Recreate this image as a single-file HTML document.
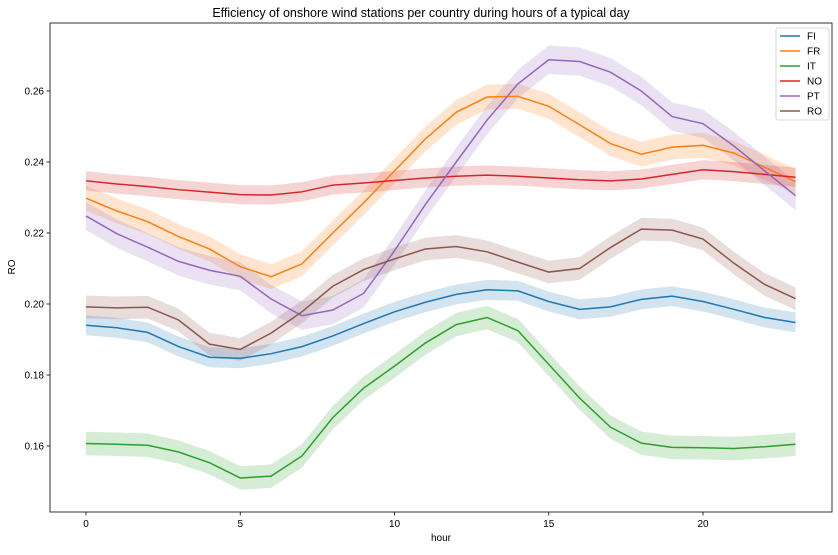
<!DOCTYPE html>
<html><head><meta charset="utf-8"><style>
body{margin:0;background:#fff;font-family:"Liberation Sans","DejaVu Sans",sans-serif}
</style></head><body>
<svg id="chart" width="838" height="550" xmlns="http://www.w3.org/2000/svg" font-family="Liberation Sans, DejaVu Sans, sans-serif"></svg>
<script>
const hours=[0,1,2,3,4,5,6,7,8,9,10,11,12,13,14,15,16,17,18,19,20,21,22,23];
const seriesNames=["FI","FR","IT","NO","PT","RO"];
const colors=["#1f77b4","#ff7f0e","#2ca02c","#d62728","#9467bd","#8c564b"];
const FI=[0.194,0.1933,0.192,0.188,0.185,0.1847,0.186,0.188,0.191,0.1945,0.1978,0.2005,0.2027,0.204,0.2037,0.2007,0.1985,0.1992,0.2013,0.2022,0.2007,0.1985,0.1962,0.1948];
const FR=[0.2298,0.2262,0.2232,0.219,0.2155,0.2105,0.2077,0.2113,0.22,0.2285,0.2375,0.2465,0.254,0.2583,0.2585,0.2557,0.2505,0.2452,0.2422,0.2442,0.2447,0.2425,0.2385,0.2345];
const IT=[0.1607,0.1605,0.1602,0.1583,0.1553,0.151,0.1515,0.1572,0.168,0.1763,0.1825,0.189,0.1942,0.1962,0.1925,0.183,0.1735,0.1653,0.1608,0.1596,0.1595,0.1593,0.1598,0.1605];
const NO=[0.2347,0.2338,0.2331,0.2322,0.2315,0.2308,0.2307,0.2316,0.2335,0.2341,0.2348,0.2355,0.236,0.2363,0.236,0.2355,0.235,0.2347,0.2352,0.2365,0.2378,0.2373,0.2365,0.2357];
const PT=[0.2248,0.2198,0.216,0.212,0.2095,0.2078,0.2014,0.1967,0.1983,0.203,0.215,0.228,0.24,0.2518,0.262,0.2688,0.2683,0.2653,0.26,0.2528,0.2508,0.2445,0.2375,0.2305];
const RO=[0.1992,0.1989,0.1991,0.1955,0.1887,0.1872,0.1918,0.1978,0.205,0.2097,0.2127,0.2155,0.2162,0.2147,0.2118,0.209,0.21,0.2159,0.2211,0.2208,0.2183,0.2115,0.2055,0.2015];
const ciHalf=[0.0028,0.0035,0.0033,0.0027,0.004,0.0032];
const xTicks=[0,5,10,15,20];
const yTicks=[0.16,0.18,0.20,0.22,0.24,0.26];
const yTickLabels=["0.16","0.18","0.20","0.22","0.24","0.26"];
const allSeries=[FI,FR,IT,NO,PT,RO];

const svg=document.getElementById('chart');
const NS="http://www.w3.org/2000/svg";
const L=50,R=832,T=23,B=512;
const xs=h=>86+(h-0)*(703-86)/20;
const ys=v=>446-(v-0.16)*(71/0.02);
function mk(tag,attrs,parent){const e=document.createElementNS(NS,tag);for(const k in attrs)e.setAttribute(k,attrs[k]);(parent||svg).appendChild(e);return e;}

// title & labels
let t=mk('text',{x:421,y:17,'text-anchor':'middle','font-size':12.5,fill:'#000'});t.textContent="Efficiency of onshore wind stations per country during hours of a typical day";


t=mk('text',{x:441,y:541,'text-anchor':'middle','font-size':10,fill:'#000'});t.textContent="hour";


t=mk('text',{x:15,y:267,'text-anchor':'middle','font-size':10,fill:'#000',transform:'rotate(-90 15 267)'});t.textContent="RO";



// ticks
xTicks.forEach(h=>{const x=xs(h);
 mk('line',{x1:x,x2:x,y1:B,y2:B+3.5,stroke:'#000','stroke-width':0.8});
 const tx=mk('text',{x:x,y:B+15,'text-anchor':'middle','font-size':10,fill:'#000'});tx.textContent=h;
 
 });
yTicks.forEach((v,i)=>{const y=ys(v);
 mk('line',{x1:L-3.5,x2:L,y1:y,y2:y,stroke:'#000','stroke-width':0.8});
 const tx=mk('text',{x:L-6,y:y+3.5,'text-anchor':'end','font-size':10,fill:'#000'});tx.textContent=yTickLabels[i];
 
 });

// series
allSeries.forEach((d,i)=>{
 const up=hours.map((h,j)=>xs(h)+','+ys(d[j]+ciHalf[i]));
 const lo=hours.map((h,j)=>xs(h)+','+ys(d[j]-ciHalf[i])).reverse();
 const band=mk('polygon',{points:up.concat(lo).join(' '),fill:colors[i],'fill-opacity':0.2,stroke:'none'});
 
 
});
allSeries.forEach((d,i)=>{
 const ln=mk('polyline',{points:hours.map((h,j)=>xs(h)+','+ys(d[j])).join(' '),fill:'none',stroke:colors[i],'stroke-width':1.5});
 
 
});

// frame
const fr=mk('rect',{x:L,y:T,width:R-L,height:B-T,fill:'none',stroke:'#000','stroke-width':0.8});



// legend
const lg=mk('g',{});


mk('rect',{x:776,y:28,width:53,height:92,rx:2,fill:'#fff','fill-opacity':0.8,stroke:'#ccc','stroke-width':0.8},lg);
seriesNames.forEach((n,i)=>{const y=36+i*15;
 const g=mk('g',{},lg);
 
 
 mk('line',{x1:780,x2:800,y1:y,y2:y,stroke:colors[i],'stroke-width':1.5},g);
 const tx=mk('text',{x:807,y:y+3.5,'font-size':10,fill:'#000'},g);tx.textContent=n;});
</script>
</body></html>
